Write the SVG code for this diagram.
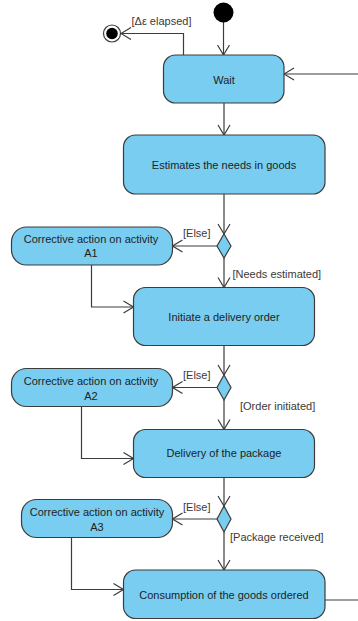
<svg xmlns="http://www.w3.org/2000/svg" width="358" height="621" viewBox="0 0 358 621">
<defs>
<marker id="arr" markerUnits="userSpaceOnUse" viewBox="0 0 12 14" markerWidth="12" markerHeight="14" refX="11" refY="7" orient="auto">
<path d="M1,1 L11,7 L1,13" fill="none" stroke="#3c3c3c" stroke-width="1.2"/>
</marker>
<style>
.act{fill:#79CDF0;stroke:#3c3c3c;stroke-width:1.2}
.t{font-family:"Liberation Sans",Arial,sans-serif;font-size:11px;fill:#1e1e1e;text-anchor:middle}
.lbl{font-family:"Liberation Sans",Arial,sans-serif;font-size:11px;fill:#3a3a3a}
.c{fill:none;stroke:#3c3c3c;stroke-width:1.2}
</style>
</defs>
<rect width="358" height="621" fill="#ffffff"/>
<g id="connectors">
<path class="c" d="M223.5,22 L223.5,55" marker-end="url(#arr)"/>
<path class="c" d="M183.5,55 L183.5,33.5 L121,33.5" marker-end="url(#arr)"/>
<path class="c" d="M358,74 L284,74" marker-end="url(#arr)"/>
<path class="c" d="M224,103 L224,135" marker-end="url(#arr)"/>
<path class="c" d="M224,194 L224,234" marker-end="url(#arr)"/>
<path class="c" d="M217,246 L172.5,246" marker-end="url(#arr)"/>
<path class="c" d="M224,258 L224,287.5" marker-end="url(#arr)"/>
<path class="c" d="M91.5,265 L91.5,307 L133.5,307" marker-end="url(#arr)"/>
<path class="c" d="M224,345.5 L224,375" marker-end="url(#arr)"/>
<path class="c" d="M217,387.5 L172.5,387.5" marker-end="url(#arr)"/>
<path class="c" d="M224,400 L224,429.5" marker-end="url(#arr)"/>
<path class="c" d="M81.5,406.5 L81.5,458.5 L133.5,458.5" marker-end="url(#arr)"/>
<path class="c" d="M224,477.5 L224,506" marker-end="url(#arr)"/>
<path class="c" d="M217,519 L172.5,519" marker-end="url(#arr)"/>
<path class="c" d="M224,532 L224,570" marker-end="url(#arr)"/>
<path class="c" d="M71.5,537.5 L71.5,589.5 L123.5,589.5" marker-end="url(#arr)"/>
<path class="c" d="M325,600 L358,600"/>
<text class="lbl" x="131.5" y="25">[Δε elapsed]</text>
<text class="lbl" x="183" y="237">[Else]</text>
<text class="lbl" x="232.5" y="278">[Needs estimated]</text>
<text class="lbl" x="183" y="379">[Else]</text>
<text class="lbl" x="240" y="410">[Order initiated]</text>
<text class="lbl" x="183" y="511">[Else]</text>
<text class="lbl" x="230" y="541">[Package received]</text>
</g>
<g id="initial"><circle cx="223.5" cy="12.5" r="10" fill="#000"/></g>
<g id="final"><circle cx="112" cy="33.5" r="8.5" fill="#fff" stroke="#3c3c3c" stroke-width="1.2"/><circle cx="112" cy="33.5" r="5.8" fill="#000"/></g>
<g id="wait"><rect class="act" x="163.5" y="55" width="120.5" height="48" rx="12"/><text class="t" x="224" y="84">Wait</text></g>
<g id="estimates"><rect class="act" x="123.5" y="135" width="201.5" height="59" rx="12"/><text class="t" x="224" y="169">Estimates the needs in goods</text></g>
<g id="d1"><polygon class="act" points="224,234 231,246 224,258 217,246"/></g>
<g id="a1"><rect class="act" x="11.5" y="227" width="161" height="38" rx="15"/><text class="t" x="91" y="243.3">Corrective action on activity</text><text class="t" x="91" y="257.3">A1</text></g>
<g id="initiate"><rect class="act" x="133.5" y="287.5" width="181" height="58" rx="12"/><text class="t" x="224" y="320.7">Initiate a delivery order</text></g>
<g id="d2"><polygon class="act" points="224,375 231,387.5 224,400 217,387.5"/></g>
<g id="a2"><rect class="act" x="11.5" y="368.5" width="161" height="38" rx="15"/><text class="t" x="91" y="384.7">Corrective action on activity</text><text class="t" x="91" y="399.7">A2</text></g>
<g id="delivery"><rect class="act" x="133.5" y="429.5" width="181" height="48" rx="12"/><text class="t" x="224" y="457.3">Delivery of the package</text></g>
<g id="d3"><polygon class="act" points="224,506 231,519 224,532 217,519"/></g>
<g id="a3"><rect class="act" x="21.5" y="499.5" width="151" height="38" rx="15"/><text class="t" x="97" y="516.3">Corrective action on activity</text><text class="t" x="97" y="531.3">A3</text></g>
<g id="consumption"><rect class="act" x="123.5" y="570" width="201.5" height="48.5" rx="12"/><text class="t" x="224" y="599">Consumption of the goods ordered</text></g>
</svg>
